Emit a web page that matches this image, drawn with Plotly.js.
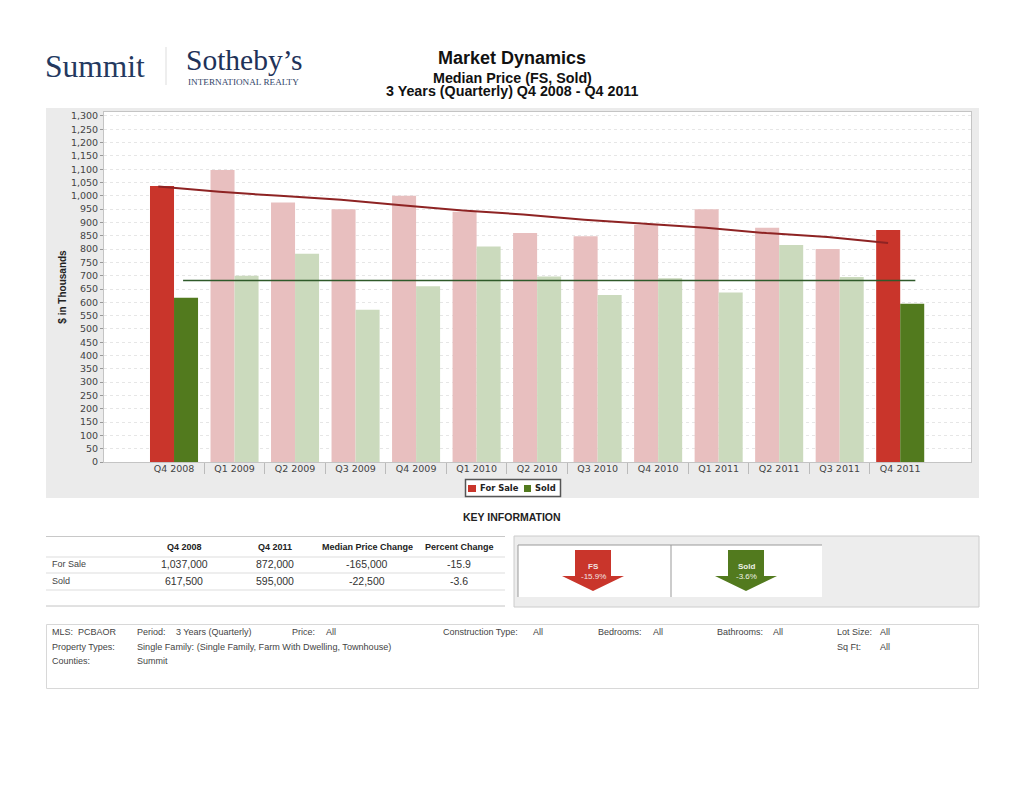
<!DOCTYPE html>
<html><head><meta charset="utf-8">
<script src="https://cdn.plot.ly/plotly-3.0.1.min.js"></script>
<style>html,body{margin:0;padding:0;background:#fff}#g{width:1024px;height:792px}</style>
</head><body><div id="g"></div>
<script>
const categories=["Q4 2008","Q1 2009","Q2 2009","Q3 2009","Q4 2009","Q1 2010","Q2 2010","Q3 2010","Q4 2010","Q1 2011","Q2 2011","Q3 2011","Q4 2011"];
const forSale=[1037,1097,975,950,1000,940,860,848,890,950,880,800,872];
const sold=[617.5,700,782,572,660,810,697,627,690,637,815,695,595];
const forSaleTrend=[1035,1015,1000,985,965,945,930,910,895,880,860,845,823];
const forSaleTrendX=[-0.26,0.75,1.75,2.76,3.76,4.77,5.77,6.78,7.78,8.79,9.79,10.8,11.8];
const soldTrend=[682,682,682,682,682,682,682,682,682,682,682,682,682];
const soldTrendX=[0.15,1.16,2.16,3.17,4.18,5.19,6.2,7.2,8.21,9.22,10.23,11.24,12.25];
const W=1024,H=792,L=104,R=971,T=112,B=462;
const px=x=>(x-L)/(R-L), py=y=>(B-y)/(B-T);
const idx=categories.map((_,i)=>i);
const emph=(c,f,n)=>n.map((_,i)=>(i===0||i===n.length-1)?c:f);
const traces=[
 {type:'bar',name:'For Sale',x:idx,y:forSale,marker:{color:emph('#C9352B','#E8BFBF',idx),line:{width:0}},hoverinfo:'y'},
 {type:'bar',name:'Sold',x:idx,y:sold,marker:{color:emph('#527A1E','#CBDABD',idx),line:{width:0}},hoverinfo:'y'},
 {type:'scatter',mode:'lines',x:forSaleTrendX,y:forSaleTrend,line:{color:'#8E2323',width:2},showlegend:false,hoverinfo:'skip'},
 {type:'scatter',mode:'lines',x:soldTrendX,y:soldTrend,line:{color:'#2F5A2A',width:1.6},showlegend:false,hoverinfo:'skip'}
];
const rect=(x0,y0,x1,y1,fill,line,w)=>({type:'rect',xref:'paper',yref:'paper',x0:px(x0),x1:px(x1),y0:py(y0),y1:py(y1),fillcolor:fill||'rgba(0,0,0,0)',line:{color:line||'rgba(0,0,0,0)',width:w===undefined?1:w},layer:'below'});
const seg=(x0,y0,x1,y1,c,w)=>({type:'line',xref:'paper',yref:'paper',x0:px(x0),x1:px(x1),y0:py(y0),y1:py(y1),line:{color:c,width:w||1},layer:'below'});
const poly=(pts,fill)=>({type:'path',xref:'paper',yref:'paper',path:'M'+pts.map(p=>px(p[0])+','+py(p[1])).join('L')+'Z',fillcolor:fill,line:{width:0},layer:'below'});
const arrow=(cx,c)=>poly([[cx-18,550],[cx+18,550],[cx+18,576],[cx+31,576],[cx,591],[cx-31,576],[cx-18,576]],c);
const shapes=[
 rect(46,108,979,498,'#EBEBEB'),
 rect(L,T,R,B,'#FFFFFF'),
 seg(166,47,166,85,'#DDDDDD',1),
 // legend box and keys
 rect(465.5,479.5,560.5,496.5,'#FFFFFF','#555555',1.5),
 rect(468,485,476,492,'#C9352B',null,0),
 rect(524,485,531,492,'#527A1E',null,0),
 // table rules
 seg(46,536.5,505,536.5,'#C8C8C8',1),seg(46,557,505,557,'#DDDDDD',1),seg(46,573,505,573,'#DDDDDD',1),seg(46,590,505,590,'#DDDDDD',1),seg(46,606,505,606,'#C4C4C4',1),
 // change panel
 rect(514,536,979,607,'#EDEDED','#CCCCCC',1),
 rect(518,545,822,597,'#FFFFFF'),
 seg(518,545,822,545,'#999999',1),seg(518,545,518,597,'#999999',1),seg(671,545,671,597,'#999999',1),
 arrow(593,'#C9352B'),arrow(746,'#527A1E'),
 // filter box
 rect(46.5,624.5,978.5,688.5,'#FFFFFF','#D8D8D8',1)
];
const note=(x,y,text,size,color,anchor,extra)=>Object.assign({xref:'paper',yref:'paper',x:px(x),y:py(y),text,showarrow:false,xanchor:anchor||'left',xshift:(anchor&&anchor!=='left')?0:-2,yanchor:'middle',font:{family:'Liberation Sans',size:size,color:color||'#444'}},extra||{});
const S='Liberation Serif';
const bold=t=>'<b>'+t+'</b>';
const annotations=[
 note(45,66,'Summit',31.5,'#24395F','left',{font:{family:S,size:31.5,color:'#24395F'}}),
 note(186,60,'Sotheby’s',29.5,'#1E3259','left',{font:{family:S,size:29.5,color:'#1E3259'}}),
 note(188,82,'INTERNATIONAL REALTY',9.2,'#33456A','left',{font:{family:S,size:9.2,color:'#33456A'}}),
 note(512,77.5,bold('Median Price (FS, Sold)'),14.3,'#111','center'),
 note(512,91,bold('3 Years (Quarterly) Q4 2008 - Q4 2011'),14.3,'#111','center'),
 note(512,517,bold('KEY INFORMATION'),10.5,'#222','center'),
 note(479.5,488.5,bold('For Sale'),8.4,'#222','left',{font:{family:'DejaVu Sans',size:8.4,color:'#222'}}),
 note(535,488.5,bold('Sold'),8.4,'#222','left',{font:{family:'DejaVu Sans',size:8.4,color:'#222'}}),
 note(184,547,bold('Q4 2008'),9,'#222','center'),note(275,547,bold('Q4 2011'),9,'#222','center'),
 note(367,547,bold('Median Price Change'),9,'#222','center'),note(459,547,bold('Percent Change'),9,'#222','center'),
 note(52,564,'For Sale',9),note(52,581,'Sold',9),
 note(184,564,'1,037,000',10.5,'#333','center'),note(275,564,'872,000',10.5,'#333','center'),note(367,564,'-165,000',10.5,'#333','center'),note(459,564,'-15.9',10.5,'#333','center'),
 note(184,581,'617,500',10.5,'#333','center'),note(275,581,'595,000',10.5,'#333','center'),note(367,581,'-22,500',10.5,'#333','center'),note(459,581,'-3.6',10.5,'#333','center'),
 note(593,566,bold('FS'),8,'#F2E6E4','center'),note(593,576,'-15.9%',8,'#F2E6E4','center'),
 note(746,566,bold('Sold'),8,'#EEF2E6','center'),note(746,576,'-3.6%',8,'#EEF2E6','center'),
 note(52,632,'MLS:  PCBAOR',9),note(137,632,'Period:',9),note(176,632,'3 Years (Quarterly)',9),note(292,632,'Price:',9),note(326,632,'All',9),
 note(443,632,'Construction Type:',9),note(533,632,'All',9),note(598,632,'Bedrooms:',9),note(653,632,'All',9),note(717,632,'Bathrooms:',9),note(773,632,'All',9),note(837,632,'Lot Size:',9),note(880,632,'All',9),
 note(52,646.5,'Property Types:',9),note(137,646.5,'Single Family: (Single Family, Farm With Dwelling, Townhouse)',9.1),note(837,646.5,'Sq Ft:',9),note(880,646.5,'All',9),
 note(52,661,'Counties:',9),note(137,661,'Summit',9)
];
const tickFont={family:'DejaVu Sans',size:9.5,color:'#444'};
const layout={
 width:W,height:H,paper_bgcolor:'#fff',plot_bgcolor:'#fff',showlegend:false,
 margin:{l:L,r:W-R,t:T,b:H-B,pad:0},
 title:{text:bold('Market Dynamics'),x:512/W,xanchor:'center',y:1-58/H,yanchor:'middle',font:{family:'Liberation Sans',size:18,color:'#111'}},
 barmode:'group',bargap:0.206,bargroupgap:0,
 xaxis:{type:'linear',range:[-1.157,13.17],tickmode:'array',tickvals:idx,ticktext:categories,ticks:'',tickfont:tickFont,ticklabelstandoff:-2,showgrid:false,zeroline:false,showline:true,linecolor:'#C4C4C4',linewidth:1,mirror:true,
  minor:{tickmode:'array',tickvals:idx.slice(0,-1).map(i=>i+0.5),ticks:'outside',ticklen:11,tickcolor:'#BBBBBB',tickwidth:1,showgrid:false}},
 yaxis:{range:[0,1315],tickmode:'linear',tick0:0,dtick:50,tickformat:',d',tickfont:tickFont,ticks:'outside',ticklen:3,tickcolor:'#999',showgrid:true,gridcolor:'#E6E6E6',griddash:'dot',gridwidth:1,zeroline:false,showline:true,linecolor:'#C4C4C4',linewidth:1,mirror:true,
  title:{text:bold('$ in Thousands'),standoff:2,font:{family:'Liberation Sans',size:10,color:'#222'}}},
 shapes,annotations
};
Plotly.newPlot('g',traces,layout,{staticPlot:true,displayModeBar:false});
</script></body></html>
